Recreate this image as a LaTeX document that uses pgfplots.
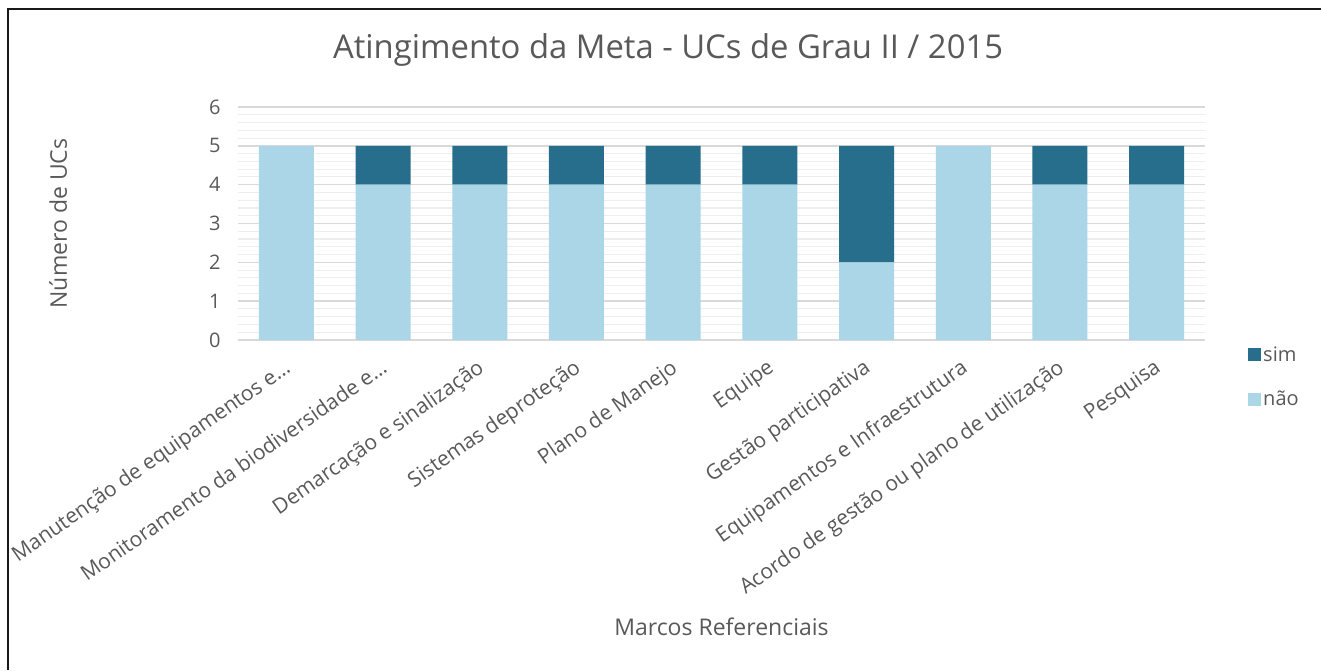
\documentclass[border=0pt]{standalone}
\usepackage{fontspec}
\setmainfont{Open Sans}
\usepackage{pgfplots}
\pgfplotsset{compat=1.18}
\definecolor{simc}{HTML}{266E8B}
\definecolor{naoc}{HTML}{ABD6E7}
\definecolor{txt}{HTML}{595959}
\definecolor{majg}{HTML}{D9D9D9}
\definecolor{ming}{HTML}{EEEEEE}
\begin{document}
\begin{tikzpicture}[x=1pt,y=1pt]
\fill[white] (0,0) rectangle (1321,670);
\begin{axis}[
  at={(238pt,330pt)}, anchor=south west,
  scale only axis, width=967pt, height=233pt,
  ybar stacked, bar width=55pt,
  xmin=-0.5, xmax=9.5, ymin=0, ymax=6,
  xtick={0,...,9},
  xticklabels={Manutenção de equipamentos e…,Monitoramento da biodiversidade e…,Demarcação e sinalização,Sistemas deproteção,Plano de Manejo,Equipe,Gestão participativa,Equipamentos e Infraestrutura,Acordo de gestão ou plano de utilização,Pesquisa},
  ytick={0,...,6},
  minor y tick num=4,
  ymajorgrids, yminorgrids,
  major grid style={draw=majg, line width=1.4pt},
  minor grid style={draw=ming, line width=1.1pt},
  axis line style={draw=none},
  major tick length=0pt, minor tick length=0pt,
  tick style={draw=none},
  /pgf/number format/assume math mode=true,
  ticklabel style={font=\fontsize{20}{24}\selectfont, text=txt},
  yticklabel style={xshift=-14pt},
  xticklabel style={font=\fontsize{21}{25}\selectfont, anchor=north east, xshift=-3pt, yshift=-13pt, rotate=35},
  title={Atingimento da Meta - UCs de Grau II / 2015},
  title style={font=\fontsize{32.8}{38}\selectfont, text=txt, at={(axis description cs:0.4447,1.184)}, anchor=base},
  xlabel={Marcos Referenciais},
  xlabel style={font=\fontsize{23}{27}\selectfont, text=txt, at={(axis description cs:0.5,-1.270)}, anchor=base},
  ylabel={Número de UCs},
  ylabel style={font=\fontsize{23}{27}\selectfont, text=txt, at={(axis description cs:-0.186,0.5)}, anchor=center},
  legend style={at={(axis description cs:1.0414,-0.159)}, anchor=west, draw=none, fill=none,
    font=\fontsize{20}{24}\selectfont, text=txt, row sep=24pt,
    /tikz/every even column/.append style={column sep=2pt}},
  legend cell align=left,
  reverse legend,
  legend image code/.code={\fill[#1] (0pt,-6.5pt) rectangle (13pt,6.5pt);},
]
\addplot[fill=naoc, draw=none] coordinates {(0,5) (1,4) (2,4) (3,4) (4,4) (5,4) (6,2) (7,5) (8,4) (9,4)};
\addlegendentry{não}
\addplot[fill=simc, draw=none] coordinates {(0,0) (1,1) (2,1) (3,1) (4,1) (5,1) (6,3) (7,0) (8,1) (9,1)};
\addlegendentry{sim}
\end{axis}
\draw[line width=2pt, black!90] (1321,661) -- (8,661) -- (8,0);
\pgfresetboundingbox
\useasboundingbox (0,0) rectangle (1321,670);
\end{tikzpicture}
\end{document}
